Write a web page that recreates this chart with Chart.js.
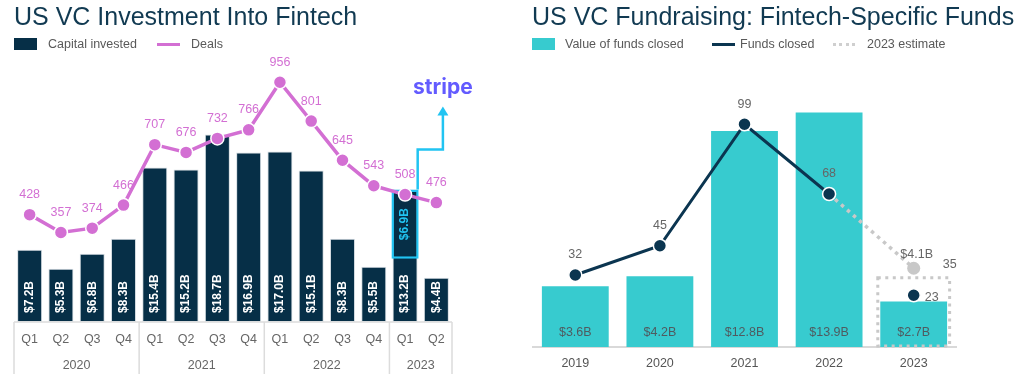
<!DOCTYPE html>
<html>
<head>
<meta charset="utf-8">
<title>US VC Fintech</title>
<script src="https://cdn.jsdelivr.net/npm/chart.js@4.4.1/dist/chart.umd.min.js"></script>
<style>
  body { margin: 0; width: 1024px; height: 380px; background: #fff; overflow: hidden;
         font-family: "Liberation Sans", Arial, sans-serif; }
  .panel { position: absolute; top: 0; width: 512px; height: 380px; }
  .panel canvas { position: absolute; left: 0; top: 0; }
  .title { position: absolute; top: 2px; font-size: 25px; color: #113a52; white-space: nowrap; z-index: 2; }
  .lg { position: absolute; top: 36px; height: 16px; font-size: 12.5px; color: #595959;
        white-space: nowrap; z-index: 2; line-height: 16px; }
  .sw { position: absolute; top: 2px; width: 23px; height: 12px; }
  .ln { position: absolute; top: 7px; width: 23px; height: 3px; }
  .dot { position: absolute; top: 7px; width: 24px; height: 3px;
         background: repeating-linear-gradient(to right, #cfcfcf 0 3px, transparent 3px 6.5px); }
</style>
</head>
<body>
<div class="panel" style="left:0">
  <div class="title" style="left:14px">US VC Investment Into Fintech</div>
  <div class="lg" style="left:14px"><span class="sw" style="left:0;background:#062f47"></span><span style="position:absolute;left:34px">Capital invested</span></div>
  <div class="lg" style="left:157px"><span class="ln" style="left:0;background:#d36fd3"></span><span style="position:absolute;left:34px">Deals</span></div>
  <canvas id="left" width="512" height="380"></canvas>
</div>
<div class="panel" style="left:512px">
  <div class="title" style="left:20px">US VC Fundraising: Fintech-Specific Funds</div>
  <div class="lg" style="left:20px"><span class="sw" style="left:0;background:#37cbcf"></span><span style="position:absolute;left:33px">Value of funds closed</span></div>
  <div class="lg" style="left:200px"><span class="ln" style="left:0;background:#0b3550"></span><span style="position:absolute;left:28px">Funds closed</span></div>
  <div class="lg" style="left:321px"><span class="dot" style="left:0"></span><span style="position:absolute;left:34px">2023 estimate</span></div>
  <canvas id="right" width="512" height="380"></canvas>
</div>

<script>
// ---- left chart data ----
const quarters = ['Q1', 'Q2', 'Q3', 'Q4', 'Q1', 'Q2', 'Q3', 'Q4', 'Q1', 'Q2', 'Q3', 'Q4', 'Q1', 'Q2'];
const years = ['2020', '2021', '2022', '2023'];
const quartersPerYear = [4, 4, 4, 2];
const capitalInvested = [7.2, 5.3, 6.8, 8.3, 15.4, 15.2, 18.7, 16.9, 17.0, 15.1, 8.3, 5.5, 13.2, 4.4];
const deals = [428, 357, 374, 466, 707, 676, 732, 766, 956, 801, 645, 543, 508, 476];
const stripeQuarter = 12;   // Q1 2023
const stripeRound = 6.9;

// ---- right chart data ----
const fundYears = ['2019', '2020', '2021', '2022', '2023'];
const fundValue = [3.6, 4.2, 12.8, 13.9, 2.7];
const fundsClosed = [32, 45, 99, 68, 23];
const estimateFunds = [null, null, null, 68, 35];
const estimateValue = 4.1;   // 2023 estimated value

const NAVY = '#062f47';
const ORCHID = '#d36fd3';
const CYAN = '#21c4f2';
const TEAL = '#37cbcf';
const FUNDNAVY = '#0b3550';
const GREY = '#c8c8c8';
const FONT = '"Liberation Sans", Arial, sans-serif';

Chart.defaults.font.family = FONT;

// year tick positions = middle of each year's quarters
const yearCenters = [];
const yearEdges = [-0.5];
let start = 0;
quartersPerYear.forEach(n => {
  yearCenters.push(start + (n - 1) / 2);
  start += n;
  yearEdges.push(start - 0.5);
});

const stripeBox = capitalInvested.map((v, i) => i === stripeQuarter ? [v - stripeRound, v] : null);

const leftLabels = {
  id: 'leftLabels',
  afterDatasetsDraw(chart) {
    const ctx = chart.ctx;
    ctx.save();
    // bar values, rotated
    ctx.font = 'bold 12px ' + FONT;
    ctx.fillStyle = '#fff';
    ctx.textAlign = 'left';
    ctx.textBaseline = 'middle';
    chart.getDatasetMeta(2).data.forEach((bar, i) => {
      ctx.save();
      ctx.translate(bar.x, bar.base - 9);
      ctx.rotate(-Math.PI / 2);
      ctx.fillText('$' + capitalInvested[i].toFixed(1) + 'B', 0, 0);
      ctx.restore();
    });
    // stripe portion
    const sb = chart.getDatasetMeta(1).data[stripeQuarter];
    ctx.save();
    ctx.fillStyle = CYAN;
    ctx.textAlign = 'center';
    ctx.translate(sb.x, (sb.y + sb.base) / 2);
    ctx.rotate(-Math.PI / 2);
    ctx.fillText('$' + stripeRound.toFixed(1) + 'B', 0, 0);
    ctx.restore();
    // deals labels
    ctx.font = '12.5px ' + FONT;
    ctx.fillStyle = ORCHID;
    ctx.textAlign = 'center';
    chart.getDatasetMeta(0).data.forEach((pt, i) => {
      ctx.fillText(String(deals[i]), pt.x, pt.y - 20);
    });
    // arrow to stripe logo
    const x0 = sb.x + sb.width / 2 - 1;
    const x1 = x0 + sb.width - 2;
    const yMid = sb.y - 40;
    const tip = sb.y - 83;
    ctx.strokeStyle = CYAN;
    ctx.lineWidth = 2.5;
    ctx.beginPath();
    ctx.moveTo(x0, sb.y);
    ctx.lineTo(x0, yMid);
    ctx.lineTo(x1, yMid);
    ctx.lineTo(x1, tip + 7);
    ctx.stroke();
    ctx.fillStyle = CYAN;
    ctx.beginPath();
    ctx.moveTo(x1, tip);
    ctx.lineTo(x1 - 5.5, tip + 9);
    ctx.lineTo(x1 + 5.5, tip + 9);
    ctx.closePath();
    ctx.fill();
    ctx.fillStyle = '#635bff';
    ctx.font = 'bold 21px Inter, ' + FONT;
    ctx.textBaseline = 'alphabetic';
    ctx.fillText('stripe', x1, tip - 13);
    // table-like axis lines
    const xs = chart.scales.xYear;
    ctx.strokeStyle = '#dcdcdc';
    ctx.lineWidth = 1.5;
    ctx.beginPath();
    const top = chart.chartArea.bottom;
    const bottom = xs.bottom;
    ctx.moveTo(xs.getPixelForValue(yearEdges[0]), top);
    ctx.lineTo(xs.getPixelForValue(yearEdges[yearEdges.length - 1]), top);
    yearEdges.forEach(e => {
      const px = xs.getPixelForValue(e);
      ctx.moveTo(px, top);
      ctx.lineTo(px, bottom);
    });
    ctx.stroke();
    ctx.restore();
  }
};

new Chart(document.getElementById('left'), {
  data: {
    labels: quarters,
    datasets: [
      {
        type: 'line', label: 'Deals', data: deals, yAxisID: 'y2', order: 0,
        borderColor: ORCHID, borderWidth: 3.5, pointRadius: 6.5, pointBackgroundColor: ORCHID,
        pointBorderColor: '#fff', pointBorderWidth: 1.5, tension: 0
      },
      {
        type: 'bar', label: 'Stripe', data: stripeBox, yAxisID: 'y', order: 1, grouped: false,
        backgroundColor: NAVY, borderColor: CYAN, borderWidth: 2.5, borderSkipped: false,
        barPercentage: 0.87, categoryPercentage: 1
      },
      {
        type: 'bar', label: 'Capital invested', data: capitalInvested, yAxisID: 'y', order: 2, grouped: false,
        backgroundColor: NAVY, borderColor: '#d5dde2', borderWidth: 1, borderSkipped: false,
        barPercentage: 0.8, categoryPercentage: 1
      }
    ]
  },
  options: {
    responsive: false,
    animation: false,
    layout: { padding: { left: 14, right: 60, top: 21, bottom: 6 } },
    plugins: { legend: { display: false }, tooltip: { enabled: false } },
    scales: {
      x: {
        type: 'category', offset: true,
        grid: { display: false, drawTicks: false }, border: { display: false },
        ticks: { color: '#666', font: { size: 12.5 }, padding: 10, autoSkip: false, maxRotation: 0 }
      },
      xYear: {
        type: 'linear', position: 'bottom', weight: 1, min: -0.5, max: 13.5,
        grid: { display: false, drawTicks: false }, border: { display: false },
        afterBuildTicks: s => { s.ticks = yearCenters.map(v => ({ value: v })); },
        ticks: { color: '#666', font: { size: 12.5 }, padding: 1, autoSkip: false, maxRotation: 0,
                 callback: (v, i) => years[i] }
      },
      y: { display: false, min: 0, max: 30 },
      y2: { display: false, min: 0, max: 1200 }
    }
  },
  plugins: [leftLabels]
});

// ---- right chart ----
const lastYear = fundYears.length - 1;

const rightLabels = {
  id: 'rightLabels',
  afterDatasetDraw(chart, args) {
    if (args.index !== 0) return;
    // dotted estimate box around 2023 bar
    const ctx = chart.ctx;
    const bar = args.meta.data[lastYear];
    const y = chart.scales.y;
    ctx.save();
    ctx.strokeStyle = GREY;
    ctx.lineWidth = 3;
    ctx.setLineDash([3, 4.5]);
    const half = bar.width / 2 + 2.5;
    ctx.strokeRect(bar.x - half, y.getPixelForValue(estimateValue), half * 2, y.getPixelForValue(0) - y.getPixelForValue(estimateValue) - 1);
    ctx.restore();
  },
  afterDatasetsDraw(chart) {
    const ctx = chart.ctx;
    ctx.save();
    ctx.font = '12.5px ' + FONT;
    ctx.textBaseline = 'middle';
    ctx.textAlign = 'center';
    ctx.fillStyle = '#4f5b60';
    chart.getDatasetMeta(0).data.forEach((bar, i) => {
      ctx.fillText('$' + fundValue[i].toFixed(1) + 'B', bar.x, bar.base - 14);
    });
    ctx.fillStyle = '#666';
    chart.getDatasetMeta(2).data.forEach((pt, i) => {
      if (i === lastYear) {
        ctx.textAlign = 'left';
        ctx.fillText(String(fundsClosed[i]), pt.x + 11, pt.y + 2);
        ctx.textAlign = 'center';
      } else {
        ctx.fillText(String(fundsClosed[i]), pt.x, pt.y - 20);
      }
    });
    const est = chart.getDatasetMeta(1).data[lastYear];
    ctx.fillText('$' + estimateValue.toFixed(1) + 'B', est.x + 3, est.y - 14);
    ctx.fillText(String(estimateFunds[lastYear]), est.x + 36, est.y - 4);
    ctx.restore();
  }
};

new Chart(document.getElementById('right'), {
  data: {
    labels: fundYears,
    datasets: [
      {
        type: 'bar', label: 'Value of funds closed', data: fundValue, yAxisID: 'y', order: 3,
        backgroundColor: TEAL, barPercentage: 0.79, categoryPercentage: 1
      },
      {
        type: 'line', label: '2023 estimate', data: estimateFunds, yAxisID: 'y2', order: 2,
        borderColor: GREY, borderWidth: 3.5, borderDash: [3.5, 4.5], borderCapStyle: 'butt',
        pointRadius: ctx => ctx.dataIndex === lastYear ? 6.5 : 0,
        pointBackgroundColor: GREY, pointBorderColor: GREY, pointBorderWidth: 0, spanGaps: false
      },
      {
        type: 'line', label: 'Funds closed', data: fundsClosed, yAxisID: 'y2', order: 1,
        borderColor: FUNDNAVY, borderWidth: 3, pointRadius: 6.5, pointBackgroundColor: FUNDNAVY,
        pointBorderColor: '#fff', pointBorderWidth: 1.5,
        segment: { borderColor: s => s.p1DataIndex === lastYear ? 'rgba(0,0,0,0)' : FUNDNAVY }
      }
    ]
  },
  options: {
    responsive: false,
    animation: false,
    layout: { padding: { left: 21, right: 68, top: 77, bottom: 0 } },
    plugins: { legend: { display: false }, tooltip: { enabled: false } },
    scales: {
      x: {
        type: 'category', offset: true,
        grid: { display: true, drawOnChartArea: false, drawTicks: false },
        border: { display: true, color: '#d9d9d9', width: 2 },
        ticks: { color: '#555', font: { size: 12.5 }, padding: 9, autoSkip: false, maxRotation: 0 }
      },
      y: { display: false, min: 0, max: 16 },
      y2: { display: false, min: 0, max: 120 }
    }
  },
  plugins: [rightLabels]
});
</script>
</body>
</html>
